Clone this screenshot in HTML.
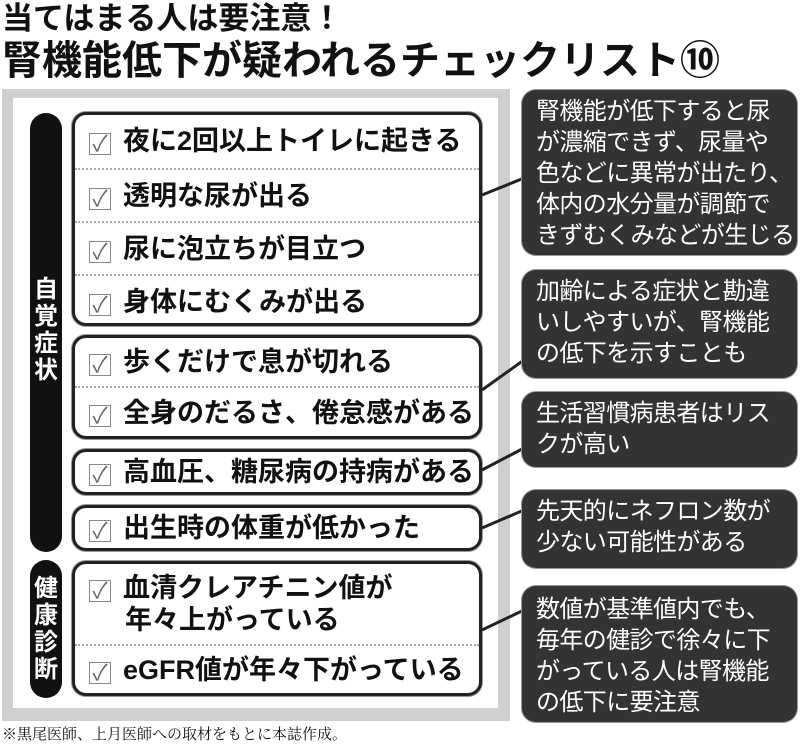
<!DOCTYPE html>
<html><head><meta charset="utf-8"><style>
*{margin:0;padding:0;box-sizing:border-box}
body{width:800px;height:747px;background:#fff;position:relative;overflow:hidden;font-family:"Liberation Sans","Noto Sans CJK JP",sans-serif;color:#111}
.a{position:absolute}
.t1{left:2px;top:0px;font-size:31px;font-weight:bold;line-height:38px;letter-spacing:0px}
.t2{left:2px;top:38px;font-size:40px;font-weight:bold;line-height:46px;letter-spacing:0px}
.frame{left:2px;top:89px;width:508px;height:632px;background:#cfcfcf}
.inner{left:13px;top:98px;width:485px;height:610px;background:#fff}
.bar{background:#111;border-radius:16px;color:#fff;font-weight:bold;font-size:24px;width:32px;left:30px;display:flex;flex-direction:column;justify-content:flex-end;align-items:center;line-height:27px}
.box{left:72px;width:410px;border:3px solid #222;border-radius:14px;background:#fff;box-shadow:0 0 0 1px #999}
.row{height:53px;font-size:27px;font-weight:bold;line-height:53px;padding-left:14px;white-space:nowrap;letter-spacing:0px}
.row+.row{border-top:2px dotted #aaa}
.cb{display:inline-block;width:22px;height:22px;border:1px solid #888;vertical-align:-1px;margin-right:12px;position:relative;font-size:22px;line-height:20px;color:#666;text-align:center;font-weight:normal}
.rb{left:522px;width:275px;background:#333;border-radius:14px;color:#fff;font-size:24px;line-height:31px;padding:6px 0 0 14px;letter-spacing:-0.6px;white-space:nowrap;box-shadow:0 0 0 1px #999}
.foot{left:2px;top:726px;font-family:"Liberation Serif","Noto Serif CJK SC",serif;font-size:15px;line-height:18px}
</style></head><body>
<div class="a t1">当てはまる人は要注意！</div>
<div class="a t2">腎機能低下が疑われるチェックリスト⑩</div>
<div class="a frame"></div>
<div class="a inner"></div>
<div class="a bar" style="top:113px;height:439px;padding-bottom:168px">自<br>覚<br>症<br>状</div>
<div class="a bar" style="top:560px;height:138px;justify-content:center">健<br>康<br>診<br>断</div>

<div class="a box" style="top:112px;height:214px">
<div class="row"><span class="cb">✓</span>夜に2回以上トイレに起きる</div>
<div class="row"><span class="cb">✓</span>透明な尿が出る</div>
<div class="row"><span class="cb">✓</span>尿に泡立ちが目立つ</div>
<div class="row"><span class="cb">✓</span>身体にむくみが出る</div>
</div>
<div class="a box" style="top:335px;height:104px">
<div class="row" style="height:48px;line-height:48px"><span class="cb">✓</span>歩くだけで息が切れる</div>
<div class="row" style="height:50px;line-height:50px"><span class="cb">✓</span>全身のだるさ、倦怠感がある</div>
</div>
<div class="a box" style="top:449px;height:46px"><div class="row" style="height:40px;line-height:40px"><span class="cb">✓</span>高血圧、糖尿病の持病がある</div></div>
<div class="a box" style="top:505px;height:46px"><div class="row" style="height:40px;line-height:40px"><span class="cb">✓</span>出生時の体重が低かった</div></div>
<div class="a box" style="top:561px;height:135px">
<div class="row" style="height:80px;line-height:32px;padding-top:8px;white-space:normal"><span class="cb">✓</span>血清クレアチニン値が<br><span style="padding-left:36px">年々上がっている</span></div>
<div class="row" style="height:49px;line-height:49px"><span class="cb">✓</span>eGFR値が年々下がっている</div>
</div>

<svg class="a" style="left:0;top:0" width="800" height="747">
<g stroke="#222" stroke-width="3">
<line x1="482" y1="195" x2="524" y2="178"/>
<line x1="482" y1="390" x2="524" y2="360"/>
<line x1="482" y1="470" x2="524" y2="448"/>
<line x1="482" y1="528" x2="524" y2="510"/>
<line x1="482" y1="630" x2="524" y2="610"/>
</g></svg>

<div class="a rb" style="top:90px;height:165px">腎機能が低下すると尿<br>が濃縮できず、尿量や<br>色などに異常が出たり、<br>体内の水分量が調節で<br>きずむくみなどが生じる</div>
<div class="a rb" style="top:270px;height:108px">加齢による症状と勘違<br>いしやすいが、腎機能<br>の低下を示すことも</div>
<div class="a rb" style="top:392px;height:75px">生活習慣病患者はリス<br>クが高い</div>
<div class="a rb" style="top:490px;height:78px">先天的にネフロン数が<br>少ない可能性がある</div>
<div class="a rb" style="top:586px;height:136px;padding-top:8px">数値が基準値内でも、<br>毎年の健診で徐々に下<br>がっている人は腎機能<br>の低下に要注意</div>
<div class="a foot">※黒尾医師、上月医師への取材をもとに本誌作成。</div>
</body></html>
